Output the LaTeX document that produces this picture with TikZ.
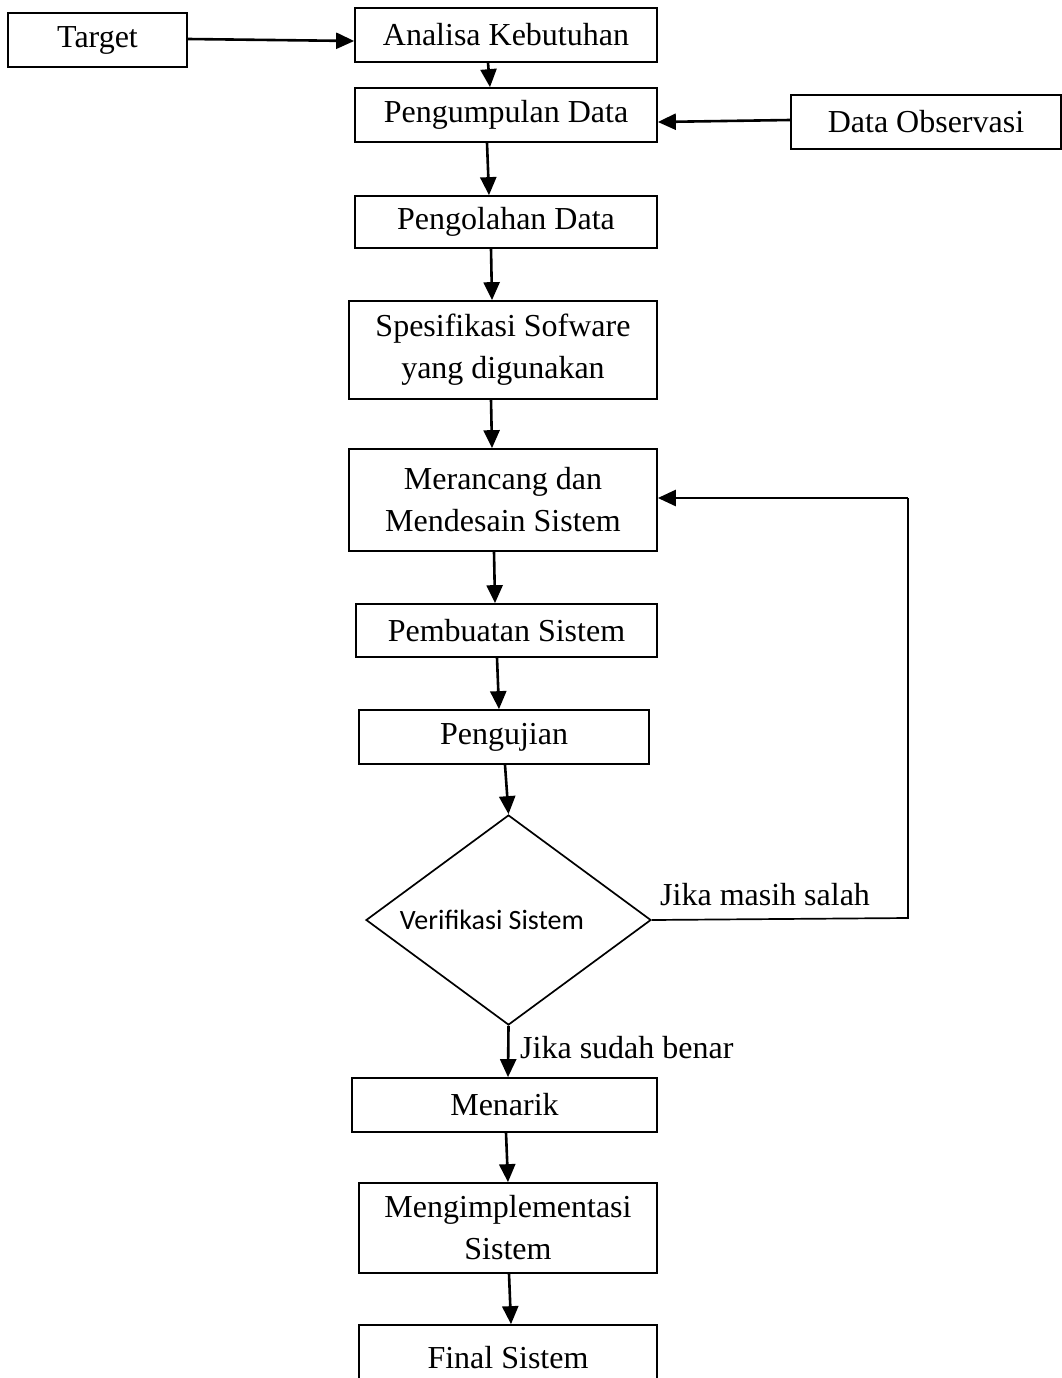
\documentclass[tikz,border=0pt]{standalone}
\usepackage{fontspec}
\setmainfont{Liberation Serif}
\newfontfamily\calib{Carlito}
\usetikzlibrary{shapes.geometric,arrows.meta}
\begin{document}
\begin{tikzpicture}[x=1pt,y=-1pt,
  box/.style={draw,line width=1.7pt,rectangle,inner sep=0pt,align=center,
    font=\fontsize{32}{42}\selectfont},
  tip/.style={-{Triangle[length=18pt,width=16pt]}},
  arr/.style={line width=2.6pt,tip},
  lbl/.style={font=\fontsize{32}{38}\selectfont,inner sep=0pt}]
\useasboundingbox (0,0) rectangle (1062,1378);
\node[box,minimum width=179,minimum height=54] (tg) at (97.5,40) {Target};
\node[box,minimum width=302,minimum height=54] (ak) at (506,35) {Analisa Kebutuhan};
\node[box,minimum width=302,minimum height=54] (pd) at (506,115) {Pengumpulan Data};
\node[box,minimum width=270,minimum height=54] (do) at (926,122) {Data Observasi};
\node[box,minimum width=302,minimum height=52] (po) at (506,222) {Pengolahan Data};
\node[box,minimum width=308,minimum height=98] (sp) at (503,350) {Spesifikasi Sofware\\yang digunakan};
\node[box,minimum width=308,minimum height=102] (mr) at (503,500) {Merancang dan\\Mendesain Sistem};
\node[box,minimum width=301,minimum height=53] (pb) at (506.5,630.5) {Pembuatan Sistem};
\node[box,minimum width=290,minimum height=54] (pj) at (504,737) {Pengujian};
\node[draw,line width=1.7pt,diamond,minimum width=285,minimum height=210,inner sep=0pt] (vs) at (508.5,920) {};
\node[font=\calib\fontsize{28}{34}\selectfont,inner sep=0pt] (vt) at (492,920) {Verifikasi Sistem};
\node[box,minimum width=305,minimum height=54] (mn) at (504.5,1105) {Menarik};
\node[box,minimum width=298,minimum height=90] (mi) at (508,1228) {Mengimplementasi\\Sistem};
\node[box,minimum width=298,minimum height=66] (fs) at (508,1358) {Final Sistem};
\node[lbl,anchor=west] (l1) at (660,895) {Jika masih salah};
\node[lbl,anchor=west] (l2) at (520,1048) {Jika sudah benar};
\draw[arr] (tg.east |- 0,39) -- (ak.west |- 0,41);
\draw[arr] (do.west |- 0,120) -- (pd.east |- 0,122);
\draw[arr] (ak.south -| 488,0) -- (pd.north -| 490,0);
\draw[arr] (pd.south -| 487,0) -- (po.north -| 489,0);
\draw[arr] (po.south -| 491,0) -- (sp.north -| 492,0);
\draw[arr] (sp.south -| 491,0) -- (mr.north -| 492,0);
\draw[arr] (mr.south -| 494,0) -- (pb.north -| 495,0);
\draw[arr] (pb.south -| 497,0) -- (pj.north -| 499,0);
\draw[arr] (pj.south -| 505,0) -- (vs.north);
\draw[arr] (vs.south) -- (mn.north -| 508,0);
\draw[arr] (mn.south -| 506,0) -- (mi.north -| 508,0);
\draw[arr] (mi.south -| 509,0) -- (fs.north -| 511,0);
\draw[line width=1.7pt] (vs.east) -- (908,918) -- (908,498);
\draw[arr] (908,498) -- (mr.east |- 0,498);
\end{tikzpicture}
\end{document}
